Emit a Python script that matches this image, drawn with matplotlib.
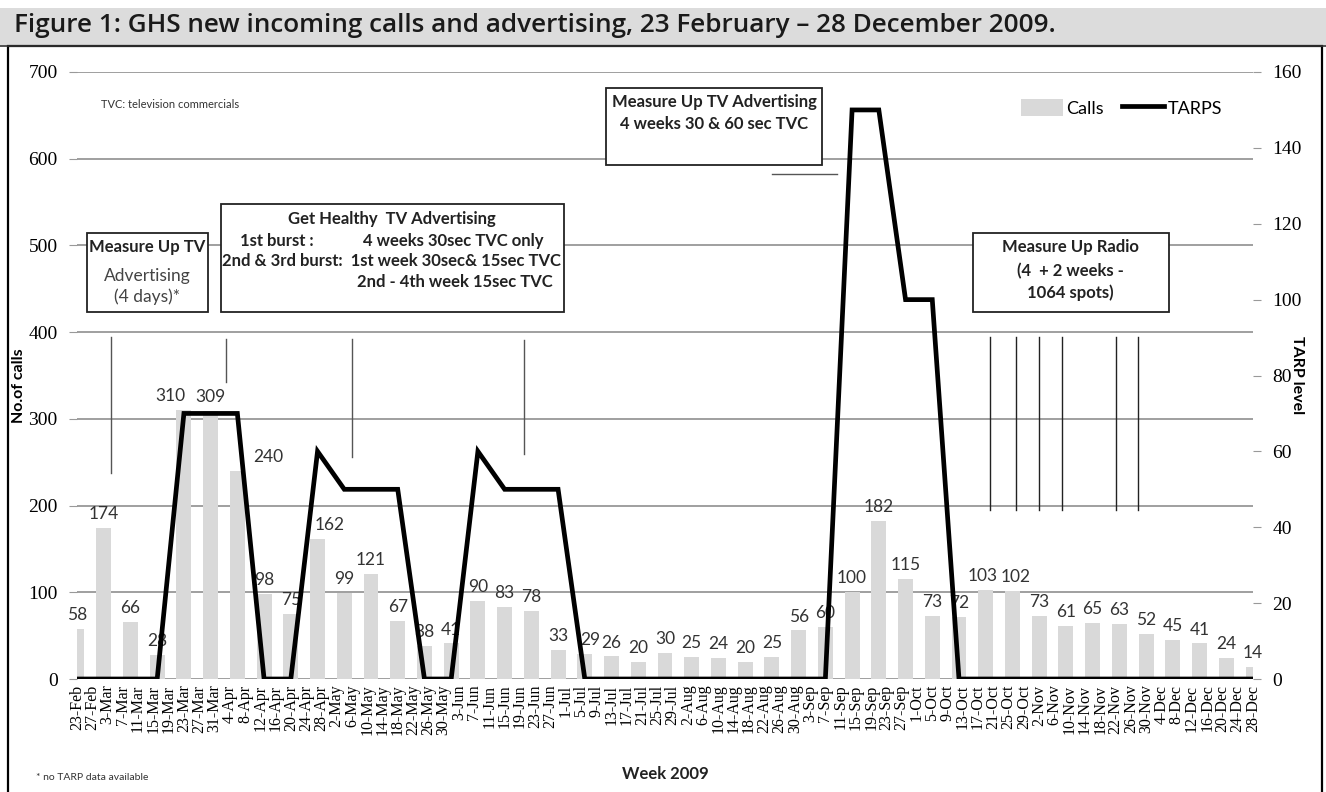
import pandas as pd
import numpy as np
import matplotlib.pyplot as plt
from matplotlib.patches import Rectangle
from matplotlib.lines import Line2D

# weekly data, 23 Feb - 28 Dec 2009
weeks = pd.date_range('2009-02-23', '2009-12-28', freq='7D')
calls = [58, 174, 66, 28, 310, 309, 240, 98, 75, 162, 99, 121, 67, 38, 41,
         90, 83, 78, 33, 29, 26, 20, 30, 25, 24, 20, 25, 56, 60, 100,
         182, 115, 73, 72, 103, 102, 73, 61, 65, 63, 52, 45, 41, 24, 14]
tarps = [0, 0, 0, 0, 70, 70, 70, 0, 0, 60, 50, 50, 50, 0, 0,
         60, 50, 50, 50, 0, 0, 0, 0, 0, 0, 0, 0, 0, 0, 150,
         150, 100, 100, 0, 0, 0, 0, 0, 0, 0, 0, 0, 0, 0, 0]
tick_dates = pd.date_range('2009-02-23', '2009-12-28', freq='4D')
tick_labels = [f'{d.day}-{d.strftime("%b")}' for d in tick_dates]
calls_ticks = list(range(0, 701, 100))
tarp_ticks = list(range(0, 161, 20))

# label nudges (points) where Excel moved them off the line
label_dx = {4: -10, 6: 22, 9: 9, 19: 4, 34: -2, 35: 2}

SANS = ['Lato', 'DejaVu Sans']
SERIF = 'Liberation Serif'

fig = plt.figure(figsize=(13.26, 7.92), dpi=100)

# title band and frame
fig.add_artist(Rectangle((0, 1 - 45 / 792), 1, 37 / 792, transform=fig.transFigure,
                         facecolor='#dcdcdc', edgecolor='none'))
fig.add_artist(Line2D([0, 1], [1 - 45.5 / 792] * 2, transform=fig.transFigure,
                      color='#333333', lw=1.2))
fig.add_artist(Rectangle((8 / 1326, -0.01), 1314 / 1326, 1 - 46 / 792 + 0.01,
                         transform=fig.transFigure, facecolor='none',
                         edgecolor='black', lw=1.6))
fig.text(14 / 1326, 1 - 26 / 792,
         'Figure 1: GHS new incoming calls and advertising, 23 February \u2013 28 December 2009.',
         fontsize=18.8, fontweight='semibold', family=['Open Sans', 'DejaVu Sans'],
         color='#1a1a1a', va='center', ha='left')

ax = fig.add_axes([77 / 1326, 1 - 679 / 792, 1176 / 1326, 607 / 792])
ax.bar(weeks, calls, width=3.9, color='#d9d9d9', zorder=2)
ax.set_xlim(weeks[0], weeks[-1])
ax.set_ylim(0, 700)
ax.set_yticks(calls_ticks, [str(t) for t in calls_ticks], fontfamily=SERIF,
              fontsize=14)
ax.grid(axis='y', color='#8f8f8f', lw=1.2, zorder=0)
for s in ['top', 'left', 'right', 'bottom']:
    ax.spines[s].set_visible(False)
ax.tick_params(axis='y', length=6, color='#999999', pad=8)
ax.set_xticks(tick_dates, tick_labels, rotation=90, fontfamily=SERIF,
              fontsize=11.5)
ax.tick_params(axis='x', length=0, pad=4)

for i, (d, v) in enumerate(zip(weeks, calls)):
    ax.annotate(str(v), (d, v), xytext=(label_dx.get(i, 0), 10),
                textcoords='offset points', ha='center', va='center',
                fontsize=12.5, family=SANS, color='#333333', zorder=3)

ax.set_ylabel('No.of calls', fontsize=11.5, fontweight='bold', family=SANS)
ax.yaxis.set_label_coords(-0.043, 0.484)
ax.set_xlabel('Week 2009', fontsize=12, fontweight='bold', family=SANS,
              color='#222222', labelpad=22)

ax2 = ax.twinx()
ax2.plot(weeks, tarps, color='black', lw=3.4, solid_joinstyle='miter', zorder=4)
ax2.set_ylim(0, 160)
ax2.set_yticks(tarp_ticks, [str(t) for t in tarp_ticks], fontfamily=SERIF,
               fontsize=14)
for s in ['top', 'left', 'right', 'bottom']:
    ax2.spines[s].set_visible(False)
ax2.tick_params(axis='y', length=6, color='#999999', pad=8)
ax2.set_ylabel('TARP level', fontsize=11.5, fontweight='bold', family=SANS,
               rotation=-90, va='center')
ax2.yaxis.set_label_coords(1.037, 0.50)

# campaign markers (date, top, bottom in calls units)
marks = [('2009-03-04', 394, 238), ('2009-04-03', 392, 343),
         ('2009-05-06', 392, 256), ('2009-06-20', 391, 259)]
radio_marks = ['2009-10-20', '2009-10-27', '2009-11-02', '2009-11-08',
               '2009-11-22', '2009-11-28']
for d, y0, y1 in marks:
    ax.plot([pd.Timestamp(d)] * 2, [y0, y1], color='#555555', lw=1, zorder=3)
for d in radio_marks:
    ax.plot([pd.Timestamp(d)] * 2, [394, 195], color='#222222', lw=1, zorder=3)
ax.plot([pd.Timestamp('2009-08-24'), pd.Timestamp('2009-09-10')], [582, 582],
        color='#555555', lw=1, zorder=3)


def box(x0, x1, y0, y1):
    ax.add_patch(Rectangle((x0, y0), x1 - x0, y1 - y0, transform=ax.transAxes,
                           facecolor='white', edgecolor='#222222', lw=1.3,
                           zorder=5, clip_on=False))


def txt(x, y, s, **kw):
    ax.text(x, y, s, transform=ax.transAxes, ha='center', va='center',
            fontsize=12, fontweight='bold', family=SANS, color='#222222',
            zorder=6, **kw)


box(0.0085, 0.1114, 0.6046, 0.7348)
txt(0.0595, 0.7117, 'Measure Up TV')
ax.text(0.0595, 0.677, 'Advertising\n(4 days)*', transform=ax.transAxes,
        ha='center', va='top', fontsize=12.5, family=SANS, color='#444444',
        zorder=6, linespacing=1.35)

box(0.1224, 0.4141, 0.6046, 0.7825)
txt(0.2679, 0.7578, 'Get Healthy  TV Advertising')
txt(0.170, 0.7216, '1st burst :')
txt(0.3197, 0.7216, '4 weeks 30sec TVC only')
txt(0.2674, 0.6886, '2nd & 3rd burst:  1st week 30sec& 15sec TVC')
txt(0.3214, 0.654, '2nd - 4th week 15sec TVC')

box(0.4498, 0.6335, 0.8468, 0.9736)
txt(0.5417, 0.9506, 'Measure Up TV Advertising')
txt(0.5417, 0.9143, '4 weeks 30 & 60 sec TVC')

box(0.7619, 0.9286, 0.6046, 0.7348)
txt(0.8444, 0.7117, 'Measure Up Radio')
txt(0.8444, 0.6722, '(4  + 2 weeks -')
txt(0.8444, 0.6359, '1064 spots)')

ax.text(0.02, 0.947, 'TVC: television commercials', transform=ax.transAxes,
        fontsize=8, family=SANS, color='#333333', va='center')
fig.text(36 / 1326, 1 - 777 / 792, '* no TARP data available', fontsize=7.5,
         family=SANS, color='#333333', va='center')

handles = [Rectangle((0, 0), 1, 1, facecolor='#d9d9d9'),
           Line2D([], [], color='black', lw=3.4)]
ax.legend(handles, ['Calls', 'TARPS'], loc='center left',
          bbox_to_anchor=(0.803, 0.9407), ncol=2, frameon=False,
          prop={'family': SANS, 'size': 13},
          handlelength=2.3, handleheight=1.05, handletextpad=0.2,
          columnspacing=1.0, borderaxespad=0, borderpad=0)

fig.savefig('out.png', dpi=100)
